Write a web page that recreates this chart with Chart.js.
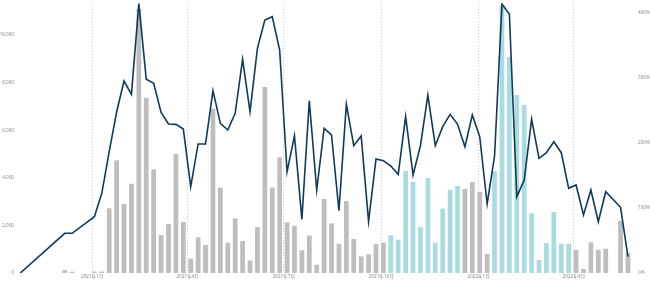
<!DOCTYPE html>
<html>
<head>
<meta charset="utf-8">
<script src="https://cdn.jsdelivr.net/npm/chart.js@4.4.0/dist/chart.umd.min.js"></script>
<style>
  html, body { margin: 0; padding: 0; background: #fff; }
  #wrap { width: 650px; height: 283px; }
</style>
</head>
<body>
<div id="wrap"><canvas id="weeklyChart"></canvas></div>
<script>
// weekly data, first week starts on this Sunday
const firstWeek = '2020-10-25';

const orders = [
  null, null, null, null, null, null, 125, 55, null, null,
  60, 60, 2720, 4735, 2900, 3750, 11090, 7365, 4355, 1600,
  2060, 5000, 2145, 600, 1500, 1175, 6905, 3585, 1275, 2295,
  1345, 530, 1935, 7815, 3585, 4860, 2130, 1990, 955, 1570,
  350, 3110, 2085, 1230, 3025, 1430, 700, 785, 1220, 1275,
  1585, 1400, 4285, 3825, 1920, 3990, 1275, 2705, 3500, 3655,
  3530, 3825, 3415, 800, 4285, 11250, 9075, 7480, 7060, 2510,
  545, 1260, 2565, 1230, 1230, 965, 170, 1290, 980, 1020,
  null, 2185, 840
];

// growth rate, %
const growth = [
  0, null, null, null, null, null, 61.1, 61.1, null, null,
  86.6, 122.6, 186.6, 247.7, 295.4, 274.9, 414.5, 298.0, 291.8, 247.2,
  229.2, 228.7, 221.5, 132.8, 198.5, 198.5, 280.5, 230.3, 220.0, 245.6,
  328.7, 248.2, 345.6, 389.2, 394.4, 343.0, 155.8, 211.2, 82.6, 265.1,
  127.7, 222.6, 212.3, 95.8, 259.5, 195.9, 210.8, 79.5, 175.4, 172.8,
  164.6, 151.8, 240.5, 150.8, 196.0, 273.8, 195.8, 225.1, 244.1, 229.2,
  194.3, 243.1, 209.7, 106.2, 180.0, 413.8, 398.0, 117.4, 143.1, 236.5,
  176.4, 185.1, 202.0, 185.1, 130.3, 135.4, 89.2, 127.7, 78.9, 125.1,
  null, 101.1, 25.1
];

// 1 = highlighted week (blue bar)
const highlighted = [
  0, 0, 0, 0, 0, 0, 0, 0, 0, 0,
  0, 0, 0, 0, 0, 0, 0, 0, 0, 0,
  0, 0, 0, 0, 0, 0, 0, 0, 0, 0,
  0, 0, 0, 0, 0, 0, 0, 0, 0, 0,
  0, 0, 0, 0, 0, 0, 0, 0, 0, 0,
  1, 1, 1, 1, 1, 1, 1, 1, 1, 1,
  0, 0, 0, 0, 1, 1, 1, 1, 1, 1,
  1, 1, 1, 1, 1, 0, 0, 0, 0, 0,
  0, 0, 0
];

const tickDates = ['2021-01-01', '2021-04-01', '2021-07-01', '2021-10-01', '2022-01-01', '2022-04-01'];
const tickLabels = ['2021年1月', '2021年4月', '2021年7月', '2021年10月', '2022年1月', '2022年4月'];
const leftTicks = [0, 2000, 4000, 6000, 8000, 10000];
const rightTicks = [0, 100, 200, 300, 400];

const DAY = 86400000;
const origin = Date.parse(tickDates[0]);
const dayOf = d => (Date.parse(d) - origin) / DAY;
const weekX = orders.map((_, i) => dayOf(firstWeek) + i * 7);

Chart.defaults.font.family = '"Noto Sans", "Noto Sans CJK JP", sans-serif';
Chart.defaults.color = '#8a8a8a';

// fixed side widths so the plot area lines up with the reference
const fixWidth = w => axis => { axis.width = w; axis.paddingTop = 0; axis.paddingBottom = 0; };

const ctx = document.getElementById('weeklyChart').getContext('2d');
const weeklyChart = new Chart(ctx, {
  type: 'bar',
  data: {
    datasets: [{
      type: 'line',
      data: weekX.map((x, i) => ({ x: x, y: growth[i] })),
      yAxisID: 'y1',
      borderColor: '#0f3a5c',
      borderWidth: 1.6,
      pointRadius: 0,
      tension: 0,
      spanGaps: true,
      order: 0
    }, {
      data: weekX.map((x, i) => ({ x: x, y: orders[i] })),
      yAxisID: 'y',
      backgroundColor: highlighted.map(h => h ? '#a9dbe3' : '#bebebe'),
      barPercentage: 0.64,
      categoryPercentage: 1,
      order: 1
    }]
  },
  options: {
    responsive: true,
    maintainAspectRatio: false,
    animation: false,
    layout: { padding: { top: 3, left: 0, right: 0, bottom: 0 } },
    plugins: { legend: { display: false }, tooltip: { enabled: false } },
    scales: {
      x: {
        type: 'linear',
        min: -71.1,
        max: 513.6,
        offset: false,
        afterBuildTicks: axis => { axis.ticks = tickDates.map(d => ({ value: dayOf(d) })); },
        afterFit: axis => { axis.height = 10; axis.paddingLeft = 0; axis.paddingRight = 0; },
        grid: { offset: false, color: '#cfcfcf', lineWidth: 1, drawTicks: false },
        border: { display: false, dash: [1, 2] },
        ticks: {
          padding: 1,
          maxRotation: 0,
          autoSkip: false,
          font: { size: 4.6 },
          callback: (v, i) => tickLabels[i]
        }
      },
      y: {
        position: 'left',
        min: 0,
        max: 11344,
        afterBuildTicks: axis => { axis.ticks = leftTicks.map(v => ({ value: v })); },
        afterFit: fixWidth(17),
        grid: { display: false, drawTicks: false },
        border: { display: false },
        ticks: {
          padding: 3,
          autoSkip: false,
          font: { size: 4.6 },
          callback: v => v.toLocaleString('en-US')
        }
      },
      y1: {
        position: 'right',
        min: 0,
        max: 415.4,
        afterBuildTicks: axis => { axis.ticks = rightTicks.map(v => ({ value: v })); },
        afterFit: fixWidth(14),
        grid: { display: false, drawTicks: false },
        border: { display: false },
        ticks: {
          padding: 2,
          autoSkip: false,
          font: { size: 4.6 },
          callback: v => v + '%'
        }
      }
    }
  }
});
</script>
</body>
</html>
